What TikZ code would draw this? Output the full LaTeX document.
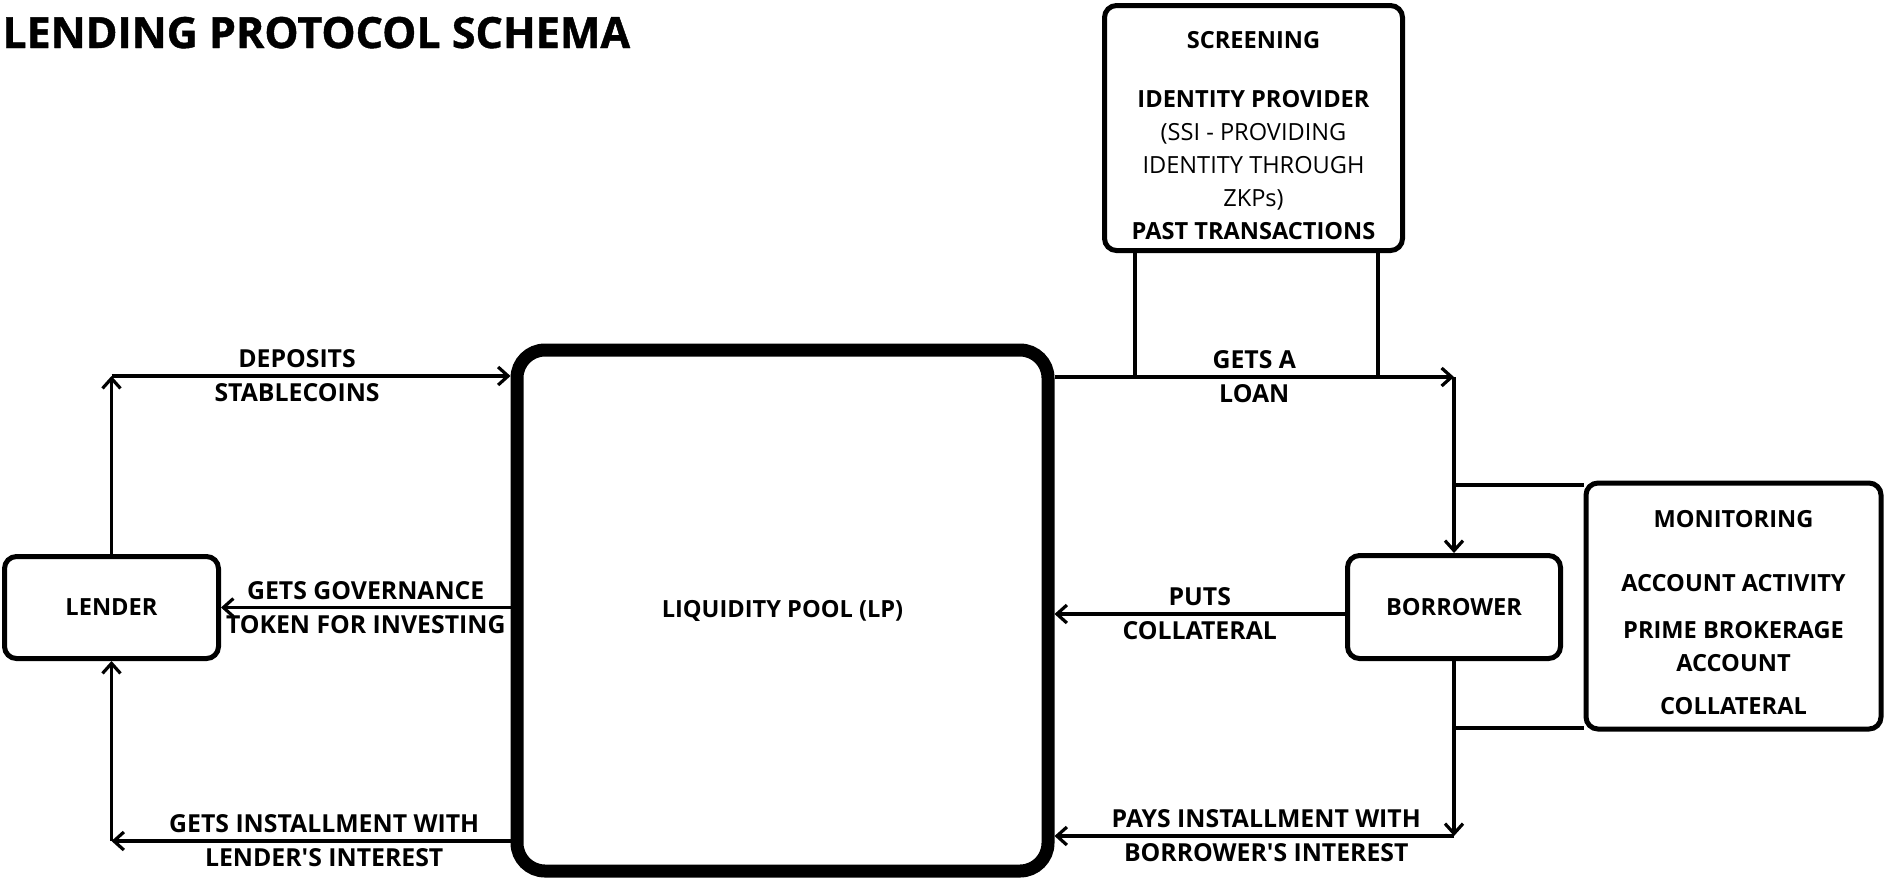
\documentclass[tikz,border=0pt]{standalone}
\usepackage{fontspec}
\setmainfont{Open Sans}[Ligatures=TeXOff]
\usetikzlibrary{arrows.meta,positioning,calc}
\tikzset{>={Straight Barb[length=5pt,width=9pt]},box/.style={draw,line width=2.5pt,rounded corners=6pt,align=center,inner sep=0pt,font=\fontsize{11.8}{16.5}\selectfont\bfseries},pool/.style={box,line width=6.5pt,rounded corners=14pt},arr/.style={->,line width=1.6pt},link/.style={line width=1.6pt},lbl/.style={font=\fontsize{12.4}{17}\selectfont\bfseries,align=center,inner sep=0pt}}

\begin{document}
\begin{tikzpicture}[x=0.5pt,y=-0.5pt]
\useasboundingbox (0,0) rectangle (1885,880);
\node[anchor=base west,inner sep=0pt,font=\fontsize{21.5}{26}\selectfont\bfseries\addfontfeature{FakeBold=1}] (title) at (2,48) {LENDING PROTOCOL SCHEMA};
\node[pool,minimum width=265.5pt,minimum height=260.5pt] (pool) at (782.5,610.5) {LIQUIDITY POOL (LP)};
\node[box,minimum width=107pt,minimum height=51pt] (lender) at (111.5,607.5) {LENDER};
\node[box,minimum width=106.5pt,minimum height=51.5pt] (borrower) at (1454,607) {BORROWER};
\node[box,minimum width=149pt,minimum height=122.5pt] (screen) at (1253.5,128) {\rule{0pt}{16pt}SCREENING\\[13pt]IDENTITY PROVIDER\\\mdseries (SSI - PROVIDING\\\mdseries IDENTITY THROUGH\\\mdseries ZKPs)\\\bfseries PAST TRANSACTIONS};
\node[box,minimum width=147.5pt,minimum height=123pt] (monitor) at (1733.5,606) {\rule{0pt}{15pt}MONITORING\\[15.5pt]ACCOUNT ACTIVITY\\[7pt]PRIME BROKERAGE\\ACCOUNT\\[5pt]COLLATERAL};
% corners of the flows
\coordinate (lt) at (111.5,376);
\coordinate (lb) at (111.5,841);
\coordinate (rt) at (1454,377);
\coordinate (rb) at (1454,836);
\coordinate (s1) at (1135,377);
\coordinate (s2) at (1378,377);
\coordinate (m1) at (1454,485);
\coordinate (m2) at (1454,728);
\coordinate (bw) at ([yshift=-3.5pt]borrower.west);
% lender side
\draw[arr] (lender) -- (lt);
\draw[arr] (lt) -- node[lbl,pos=0.465] {DEPOSITS\\STABLECOINS} (lt -| pool.west);
\draw[arr] (pool.west |- lender.east) -- node[lbl] {GETS GOVERNANCE\\TOKEN FOR INVESTING} (lender.east);
\draw[arr] (pool.west |- lb) -- node[lbl,pos=0.467] {GETS INSTALLMENT WITH\\LENDER'S INTEREST} (lb);
\draw[arr] (lb) -- (lender);
% borrower side
\draw[arr] (pool.east |- rt) -- node[lbl] {GETS A\\LOAN} (rt);
\draw[arr] (rt) -- (borrower);
\draw[arr] (bw) -- node[lbl] {PUTS\\COLLATERAL} (bw -| pool.east);
\draw[arr] (borrower) -- (rb);
\draw[arr] (rb) -- node[lbl,pos=0.47] {PAYS INSTALLMENT WITH\\BORROWER'S INTEREST} (rb -| pool.east);
% checks
\draw[link] (s1 |- screen.south) -- (s1);
\draw[link] (s2 |- screen.south) -- (s2);
\draw[link,line width=2pt] (m1) -- (m1 -| monitor.west);
\draw[link,line width=2pt] (m2) -- (m2 -| monitor.west);
\end{tikzpicture}
\end{document}
